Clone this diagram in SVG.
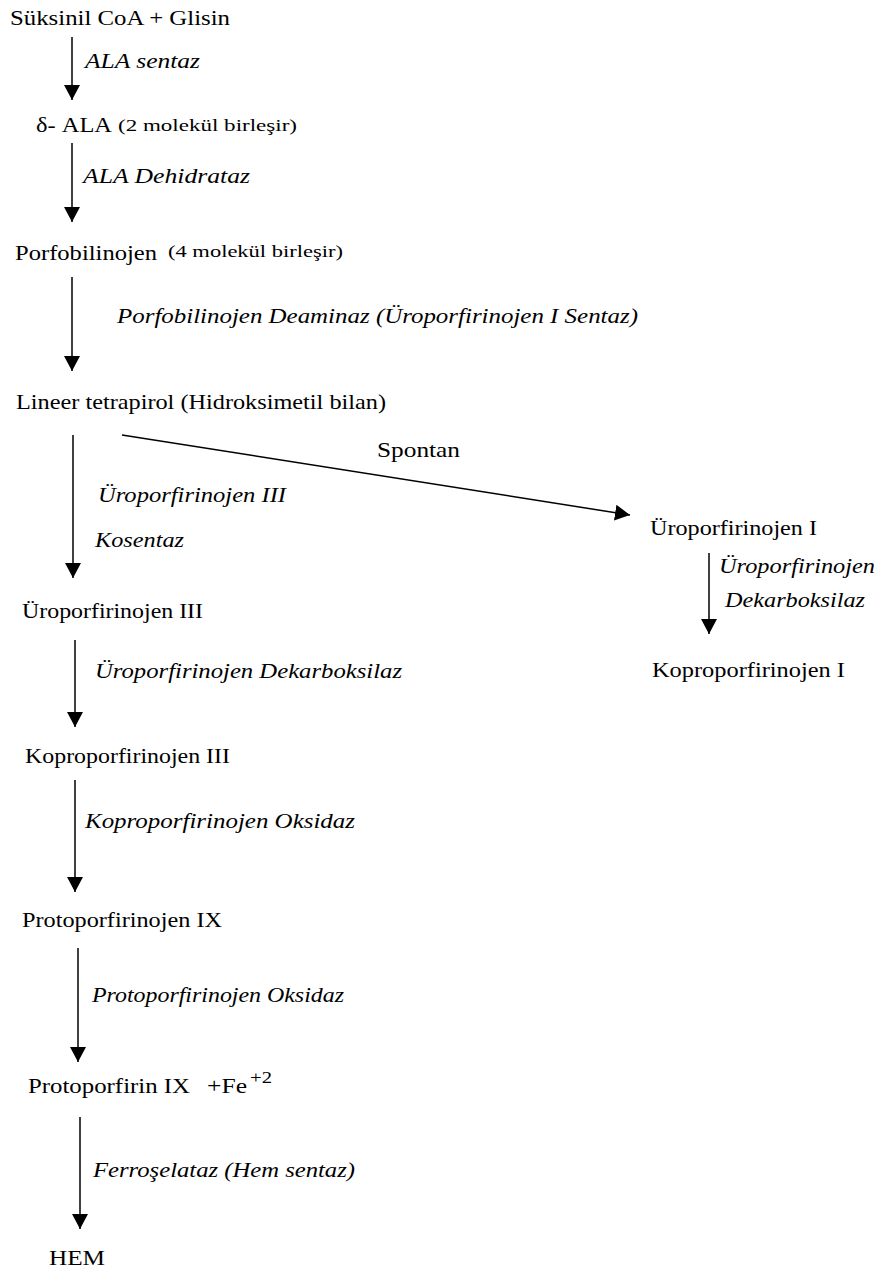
<svg xmlns="http://www.w3.org/2000/svg" width="880" height="1272" viewBox="0 0 880 1272">
<style>
text{font-family:"Liberation Serif","DejaVu Serif",serif;fill:#000}
.n{font-size:21px}
.e{font-size:21px;font-style:italic}
.s{font-size:16px}
.c line{stroke:#000;stroke-width:1.5;fill:none}
</style>
<defs>
<marker id="ah" viewBox="0 0 15 16" markerWidth="15" markerHeight="16" refX="15" refY="8" orient="auto" markerUnits="userSpaceOnUse">
<path d="M0,0 L15,8 L0,16 Z" fill="#000"/>
</marker>
</defs>
<rect width="880" height="1272" fill="#fff"/>
<g class="c" id="connectors">
<line x1="72" y1="37" x2="72" y2="100" marker-end="url(#ah)"/>
<line x1="72" y1="143" x2="72" y2="222" marker-end="url(#ah)"/>
<line x1="72" y1="277" x2="72" y2="371" marker-end="url(#ah)"/>
<line x1="73" y1="435" x2="73" y2="578" marker-end="url(#ah)"/>
<line x1="122" y1="435" x2="630" y2="515" marker-end="url(#ah)"/>
<line x1="709" y1="553" x2="709" y2="634" marker-end="url(#ah)"/>
<line x1="75" y1="640" x2="75" y2="727" marker-end="url(#ah)"/>
<line x1="75" y1="780" x2="75" y2="892" marker-end="url(#ah)"/>
<line x1="78" y1="948" x2="78" y2="1062" marker-end="url(#ah)"/>
<line x1="80" y1="1117" x2="80" y2="1229" marker-end="url(#ah)"/>
</g>
<g id="labels">
<text class="e" x="85" y="68" textLength="115" lengthAdjust="spacingAndGlyphs">ALA sentaz</text>
<text class="e" x="83" y="183" textLength="167" lengthAdjust="spacingAndGlyphs">ALA Dehidrataz</text>
<text class="e" x="117" y="323" textLength="521" lengthAdjust="spacingAndGlyphs">Porfobilinojen Deaminaz (Üroporfirinojen I Sentaz)</text>
<text class="n" x="377" y="457" textLength="83" lengthAdjust="spacingAndGlyphs">Spontan</text>
<text class="e" x="98" y="502" textLength="188" lengthAdjust="spacingAndGlyphs">Üroporfirinojen III</text>
<text class="e" x="95" y="547" textLength="89" lengthAdjust="spacingAndGlyphs">Kosentaz</text>
<text class="e" x="719" y="573" textLength="156" lengthAdjust="spacingAndGlyphs">Üroporfirinojen</text>
<text class="e" x="725" y="607" textLength="140" lengthAdjust="spacingAndGlyphs">Dekarboksilaz</text>
<text class="e" x="95" y="678" textLength="307" lengthAdjust="spacingAndGlyphs">Üroporfirinojen Dekarboksilaz</text>
<text class="e" x="85" y="828" textLength="270" lengthAdjust="spacingAndGlyphs">Koproporfirinojen Oksidaz</text>
<text class="e" x="92" y="1002" textLength="252" lengthAdjust="spacingAndGlyphs">Protoporfirinojen Oksidaz</text>
<text class="e" x="93" y="1177" textLength="262" lengthAdjust="spacingAndGlyphs">Ferroşelataz (Hem sentaz)</text>
</g>
<g id="n1"><text class="n" x="10" y="25" textLength="220" lengthAdjust="spacingAndGlyphs">Süksinil CoA + Glisin</text></g>
<g id="n2"><text class="n" x="36" y="132" textLength="76" lengthAdjust="spacingAndGlyphs">δ- ALA</text><text class="s" x="118" y="131" textLength="179" lengthAdjust="spacingAndGlyphs">(2 molekül birleşir)</text></g>
<g id="n3"><text class="n" x="15" y="260" textLength="142" lengthAdjust="spacingAndGlyphs">Porfobilinojen</text><text class="s" x="168" y="257" textLength="175" lengthAdjust="spacingAndGlyphs">(4 molekül birleşir)</text></g>
<g id="n4"><text class="n" x="16" y="409" textLength="370" lengthAdjust="spacingAndGlyphs">Lineer tetrapirol (Hidroksimetil bilan)</text></g>
<g id="n5"><text class="n" x="650" y="535" textLength="167" lengthAdjust="spacingAndGlyphs">Üroporfirinojen I</text></g>
<g id="n6"><text class="n" x="652" y="677" textLength="193" lengthAdjust="spacingAndGlyphs">Koproporfirinojen I</text></g>
<g id="n7"><text class="n" x="22" y="618" textLength="181" lengthAdjust="spacingAndGlyphs">Üroporfirinojen III</text></g>
<g id="n8"><text class="n" x="25" y="763" textLength="205" lengthAdjust="spacingAndGlyphs">Koproporfirinojen III</text></g>
<g id="n9"><text class="n" x="22" y="927" textLength="200" lengthAdjust="spacingAndGlyphs">Protoporfirinojen IX</text></g>
<g id="n10"><text class="n" x="28" y="1093" textLength="162" lengthAdjust="spacingAndGlyphs">Protoporfirin IX</text><text class="n" x="207" y="1093" textLength="40" lengthAdjust="spacingAndGlyphs">+Fe</text><text class="s" x="250" y="1083" textLength="22" lengthAdjust="spacingAndGlyphs">+2</text></g>
<g id="n11"><text class="n" x="49" y="1265" textLength="56" lengthAdjust="spacingAndGlyphs">HEM</text></g>
</svg>
